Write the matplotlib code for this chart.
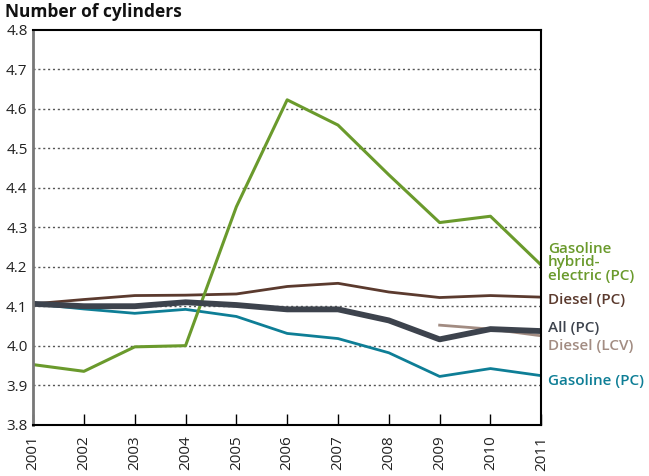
import matplotlib
matplotlib.use('Agg')
import matplotlib.pyplot as plt
import matplotlib.transforms as mtransforms

plt.rcParams['font.family'] = ['Open Sans', 'DejaVu Sans']

# data
years = [2001, 2002, 2003, 2004, 2005, 2006, 2007, 2008, 2009, 2010, 2011]
hybrid_pc = [3.952, 3.935, 3.997, 4.000, 4.352, 4.623, 4.559, 4.433, 4.312, 4.328, 4.204]
diesel_pc = [4.106, 4.117, 4.127, 4.128, 4.131, 4.150, 4.158, 4.136, 4.122, 4.127, 4.123]
all_pc = [4.106, 4.100, 4.100, 4.110, 4.103, 4.092, 4.092, 4.064, 4.016, 4.042, 4.037]
gasoline_pc = [4.106, 4.093, 4.082, 4.092, 4.074, 4.031, 4.018, 3.982, 3.922, 3.942, 3.924]
lcv_years = [2009, 2010, 2011]
diesel_lcv = [4.052, 4.042, 4.025]

y_ticks = [3.8, 3.9, 4.0, 4.1, 4.2, 4.3, 4.4, 4.5, 4.6, 4.7, 4.8]

GREEN = '#6a9a2c'
BROWN = '#5b3a2e'
DARK = '#3d434d'
TAN = '#a28c82'
TEAL = '#0e7e96'

fig = plt.figure(figsize=(6.49, 4.76), dpi=100)
ax = fig.add_axes([0.051, 0.108, 0.783, 0.829])

ax.plot(lcv_years, diesel_lcv, color=TAN, lw=2)
ax.plot(years, diesel_pc, color=BROWN, lw=2)
ax.plot(years, gasoline_pc, color=TEAL, lw=2)
ax.plot(years, hybrid_pc, color=GREEN, lw=2.2)
ax.plot(years, all_pc, color=DARK, lw=4.2, solid_capstyle='butt')

ax.set_xlim(2001, 2011)
ax.set_ylim(3.8, 4.8)
ax.set_yticks(y_ticks)
ax.set_yticklabels(['%.1f' % v for v in y_ticks], fontsize=11, color='#222222')
ax.set_xticks(years)
ax.set_xticklabels([str(y) for y in years], rotation=90, fontsize=11, color='#222222')
ax.tick_params(axis='y', length=0, pad=4)
ax.tick_params(axis='x', direction='in', length=8, width=1, color='black', pad=8)

for v in y_ticks[1:-1]:
    ax.axhline(v, color='#555555', lw=1, ls=(0, (1.5, 2)), zorder=0)

for side in ['top', 'right', 'bottom']:
    ax.spines[side].set_color('black')
    ax.spines[side].set_linewidth(1.5)
ax.spines['left'].set_color('#777777')
ax.spines['left'].set_linewidth(2)

trans = mtransforms.blended_transform_factory(ax.transAxes, ax.transData)
labels = [
    ('Gasoline\nhybrid-\nelectric (PC)', 4.211, GREEN),
    ('Diesel (PC)', 4.115, BROWN),
    ('All (PC)', 4.046, DARK),
    ('Diesel (LCV)', 4.000, TAN),
    ('Gasoline (PC)', 3.911, TEAL),
]
for txt, yv, col in labels:
    ax.text(1.013, yv, txt, transform=trans, color=col, fontsize=11,
            fontweight='semibold', va='center', ha='left', linespacing=0.95,
            clip_on=False)

fig.text(0.008, 0.975, 'Number of cylinders', fontsize=12.5, fontweight='bold',
         color='#111111', va='center', ha='left')

fig.savefig('out.png', dpi=100)
